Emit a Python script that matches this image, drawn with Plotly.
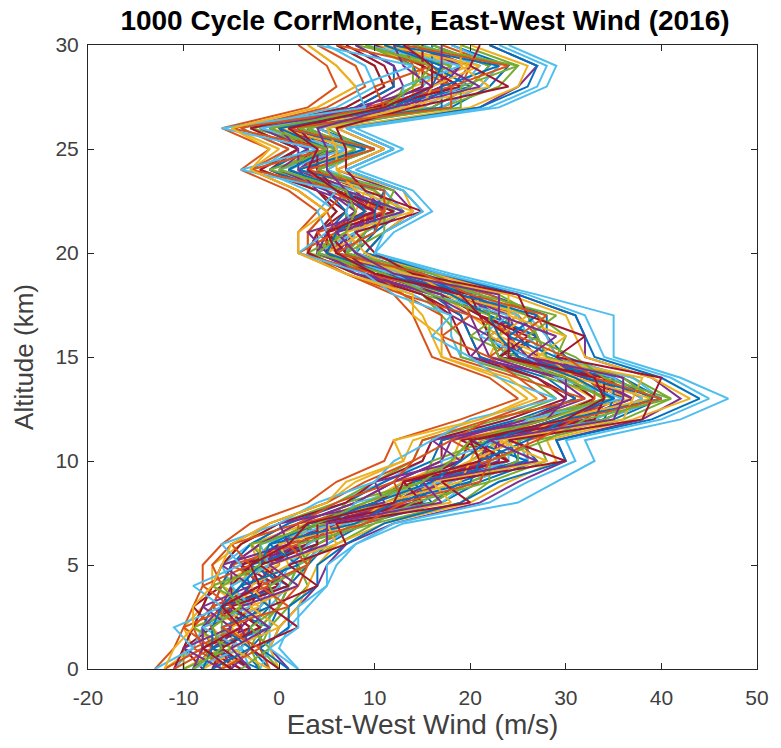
import plotly.graph_objects as go

altitude_km = list(range(0, 31))

# Hand-read wind profiles (m/s) at 1 km steps, 0..30 km, representing the Monte Carlo bundle
profiles = [
    [-9,-7,-8,-5,-3,-4,0,3,10,13,19,20,27,33,30,24,22,21,18,11,5,6,8,6,1,4,-1,10,15,14,10],
    [-3,-6,-3,-6,0,-2,3,7,15,18,24,22,33,38,34,27,27,25,20,13,7,8,11,9,3,7,2,15,19,20,14],
    [-12,-9,-10,-8,-7,-7,-4,-1,5,8,13,14,21,26,23,17,16,15,13,8,3,3,5,2,-3,0,-5,4,8,6,3],
    [1,-1,0,2,4,5,7,12,21,25,30,29,38,42,39,32,32,31,25,16,9,11,14,12,6,11,6,21,25,27,22],
    [-6,-8,-5,-4,-5,-1,1,4,11,16,20,23,29,34,31,25,23,24,19,12,6,7,10,7,2,5,0,12,17,18,12],
    [-5,-4,-6,-2,-1,-3,2,6,13,14,23,20,31,37,33,23,25,21,17,11,5,8,9,8,1,6,2,13,15,17,13],
    [-8,-10,-7,-9,-6,-5,-2,2,8,12,17,17,26,31,27,21,20,19,15,9,4,4,7,4,-1,2,-3,8,12,11,7],
    [-1,-3,-1,0,1,3,5,9,17,21,27,25,35,40,36,30,28,28,22,15,8,10,13,11,4,10,4,18,22,24,18],
    [-4,-7,-2,-5,-3,0,0,7,12,17,21,24,30,36,34,26,24,22,20,13,6,6,11,7,3,5,1,11,18,16,11],
    [-10,-6,-9,-4,-7,-2,-3,3,9,13,18,19,27,33,29,22,23,20,17,10,5,7,8,6,0,4,-2,10,14,15,9],
    [-7,-5,-4,-7,-2,-4,1,5,14,15,22,21,32,35,32,26,22,25,18,12,6,7,10,8,2,6,1,14,16,19,15],
    [0,-2,-1,1,3,2,6,10,19,22,28,27,36,41,37,29,30,27,23,14,8,9,13,10,5,9,5,17,23,25,19],
    [-11,-9,-8,-6,-5,-6,-3,1,6,11,15,16,24,30,27,19,18,18,14,8,3,4,6,3,-2,1,-4,6,10,9,5],
    [-5,-6,-5,-3,-2,-1,2,5,12,16,21,22,29,36,32,25,24,23,19,12,6,7,10,7,2,6,1,12,17,17,12],
    [-2,-4,-3,-1,-1,1,4,8,16,19,25,24,34,39,35,28,27,26,21,14,7,9,12,10,4,8,3,16,20,22,16],
    [-13,-11,-10,-9,-8,-8,-6,-3,3,6,11,12,19,25,22,16,15,14,12,7,2,2,4,1,-4,-1,-6,3,6,5,2],
    [-6,-5,-7,-4,-3,-2,0,4,10,15,20,21,28,35,31,24,23,22,18,11,5,6,9,7,1,5,0,11,16,16,11],
    [-3,-7,-4,-2,0,-1,3,6,14,17,23,23,31,37,33,27,25,24,20,13,7,7,11,9,3,6,2,14,18,20,14],
    [-8,-6,-6,-6,-4,-3,-1,3,9,14,18,20,27,34,30,23,22,21,17,10,4,6,8,6,0,4,-1,10,14,14,9],
    [2,0,1,3,5,6,8,13,25,29,33,32,42,47,42,35,35,35,27,18,10,12,16,14,8,13,8,23,28,29,24],
    [-4,-8,-3,-6,0,-4,3,3,15,13,24,19,33,34,35,23,27,21,21,10,7,5,12,6,4,3,3,10,19,15,15],
    [-9,-8,-8,-7,-6,-5,-3,1,7,11,16,17,25,31,28,21,20,19,16,9,4,5,7,5,-1,3,-2,8,12,12,8],
    [-1,-2,-2,0,2,3,4,9,16,20,26,26,34,39,36,29,28,27,22,14,8,9,12,10,4,9,4,17,21,23,17],
    [-8,-4,-8,-2,-6,0,-3,7,9,18,18,24,27,37,30,27,22,25,17,13,4,8,8,9,0,7,-1,14,14,20,10],
    [-5,-3,-4,-4,-1,-2,2,6,13,17,22,23,31,37,32,26,24,24,19,12,6,8,10,8,2,6,2,13,17,19,14],
    [-10,-10,-9,-8,-7,-6,-4,0,6,10,14,15,23,29,26,19,19,17,15,8,3,4,6,4,-2,2,-3,7,11,10,6],
    [-2,-1,-1,-1,1,2,5,8,17,20,26,25,34,40,37,29,28,26,21,14,8,9,13,11,5,9,4,17,21,23,18],
    [-7,-6,-7,-5,-5,-3,0,3,10,14,19,20,28,33,30,23,22,21,17,10,5,5,9,6,1,4,-1,10,15,15,10],
    [-2,-7,-1,-6,1,-3,4,3,16,14,26,20,34,35,35,24,27,22,21,11,8,6,13,6,4,4,3,11,20,16,16],
    [-12,-8,-9,-7,-6,-7,-5,-1,5,9,14,15,22,28,25,18,17,17,13,7,3,3,5,2,-3,1,-4,5,9,8,4],
    [0,-1,0,2,3,4,6,11,20,24,29,28,37,43,39,32,31,30,24,16,9,11,14,13,6,11,6,20,25,26,20],
    [-5,-6,-5,-5,-3,-2,1,5,12,16,21,22,30,35,32,25,24,23,19,11,6,7,10,7,2,5,1,12,17,17,12],
    [-10,-5,-9,-3,-7,-1,-3,5,7,15,16,22,25,35,28,25,20,23,15,12,3,7,7,8,-1,6,-3,12,13,18,8],
    [-3,-4,-2,-2,0,1,3,7,15,18,24,24,33,38,35,28,26,25,21,13,7,8,12,9,4,7,3,15,19,21,15],
    [-11,-10,-9,-8,-7,-6,-4,0,7,10,15,16,24,30,27,20,19,18,15,8,3,4,6,4,-2,2,-3,7,11,10,6],
    [1,-2,1,1,4,4,7,11,19,23,30,29,39,44,40,33,32,31,25,17,9,11,15,13,7,12,7,21,26,27,22],
    [-5,-9,-4,-7,-1,-5,2,2,13,12,22,18,31,33,33,22,25,20,19,9,6,4,11,5,3,3,1,9,18,14,13],
    [-6,-3,-5,-1,-3,1,0,8,11,19,20,25,29,39,31,28,23,26,18,14,5,9,9,10,2,8,0,15,16,21,11],
    [-9,-8,-8,-6,-5,-5,-2,2,8,12,17,18,26,32,29,22,21,20,16,9,4,5,8,5,0,3,-2,9,13,12,8],
    [-2,-3,-2,0,1,2,4,8,16,20,25,25,34,39,36,28,27,26,21,14,7,9,12,10,4,8,3,16,20,22,16],
    [-9,-4,-8,-3,-5,-1,-2,6,8,17,17,23,26,36,29,26,21,24,16,12,4,8,7,8,0,7,-2,13,13,19,9],
    [-3,-6,-2,-5,1,-2,4,4,15,13,24,20,33,34,34,23,26,21,20,10,7,5,12,6,4,4,2,10,19,15,15],
    [-7,-3,-6,-1,-4,2,-1,8,12,20,21,26,30,40,32,29,24,27,19,15,6,10,10,11,2,9,1,17,17,23,12],
    [-11,-7,-10,-5,-8,-3,-5,2,6,12,14,18,22,32,25,22,17,20,13,10,2,6,5,7,-3,5,-5,11,10,16,6],
    [-1,-5,0,-3,2,-1,6,5,18,16,28,23,36,37,38,27,30,24,24,13,9,7,14,8,6,6,5,13,22,19,19],
    [-6,-10,-5,-8,-3,-6,1,0,11,10,19,16,28,30,30,20,22,18,17,8,5,3,10,4,2,2,0,8,16,13,12],
    [-4,-1,-3,0,-1,3,2,10,14,22,22,28,32,41,34,31,26,29,21,16,7,11,11,12,4,10,2,19,19,25,14],
    [-13,-9,-11,-6,-9,-4,-6,0,4,10,12,16,20,29,23,20,16,18,12,9,2,5,4,6,-4,4,-6,9,8,14,4],
    [0,-3,2,-1,4,1,7,6,20,17,30,24,38,39,40,29,32,26,25,14,10,8,15,9,7,7,6,14,24,20,21],
    [-8,-7,-7,-6,-4,-2,-1,4,10,16,19,22,29,35,31,25,23,22,18,11,5,6,9,7,1,5,0,12,16,17,11],
    [-6,-2,-6,1,-2,3,1,9,13,21,22,27,31,40,33,30,25,28,20,15,6,10,11,11,3,10,1,18,18,24,13],
    [-12,-11,-9,-9,-7,-6,-5,-1,5,7,13,12,21,27,24,17,17,14,14,7,2,2,5,2,-3,-1,-5,4,8,6,3],
    [-3,-5,-1,-4,2,-1,5,5,17,15,27,22,35,36,36,26,29,23,23,12,8,6,13,7,5,5,4,12,21,17,17],
    [-9,-6,-7,-4,-6,-2,-2,4,9,15,18,20,28,34,30,23,22,22,16,11,4,7,8,7,0,5,-1,11,14,16,9],
    [2,-1,2,2,5,5,8,12,22,26,31,30,40,45,41,34,33,32,26,17,10,11,15,13,7,12,7,22,27,28,23],
    [-5,-8,-4,-6,-2,-3,1,3,12,13,21,20,30,34,33,24,24,21,19,10,6,5,10,6,3,4,1,11,16,16,13],
]

colors = ["#0072BD", "#D95319", "#EDB120", "#7E2F8E", "#77AC30", "#4DBEEE", "#A2142F"]

x_ticks = [-20, -10, 0, 10, 20, 30, 40, 50]
y_ticks = [0, 5, 10, 15, 20, 25, 30]

fig = go.Figure()
for i, prof in enumerate(profiles):
    fig.add_trace(go.Scatter(
        x=prof, y=altitude_km, mode="lines",
        line=dict(color=colors[i % len(colors)], width=2.0),
        showlegend=False, hoverinfo="skip",
    ))

axis_color = "#262626"
label_color = "#404040"
fig.update_layout(
    width=781, height=748,
    margin=dict(l=88, r=19, t=45, b=79),
    paper_bgcolor="white", plot_bgcolor="white",
    font=dict(family="Liberation Sans, Arial, sans-serif", color=label_color),
    title=dict(
        text="<b>1000 Cycle CorrMonte, East-West Wind (2016)</b>",
        x=425 / 781, xanchor="center", y=1 - 20 / 748, yanchor="middle",
        font=dict(size=28, color="black"),
    ),
    xaxis=dict(
        range=[-20, 50], tickvals=x_ticks, ticktext=[str(v) for v in x_ticks],
        showgrid=False, zeroline=False,
        showline=True, linecolor=axis_color, linewidth=1, mirror="ticks",
        ticks="inside", ticklen=6, tickcolor=axis_color,
        tickfont=dict(size=21, color=label_color),
        ticklabelstandoff=10,
        title=dict(text="East-West Wind (m/s)", font=dict(size=28, color=label_color), standoff=6),
    ),
    yaxis=dict(
        range=[0, 30], tickvals=y_ticks, ticktext=[str(v) for v in y_ticks],
        showgrid=False, zeroline=False,
        showline=True, linecolor=axis_color, linewidth=1, mirror="ticks",
        ticks="inside", ticklen=6, tickcolor=axis_color,
        tickfont=dict(size=21, color=label_color),
        ticklabelstandoff=4,
        title=dict(text="Altitude (km)", font=dict(size=26, color=label_color), standoff=14),
    ),
)

fig.write_html("out.html")
